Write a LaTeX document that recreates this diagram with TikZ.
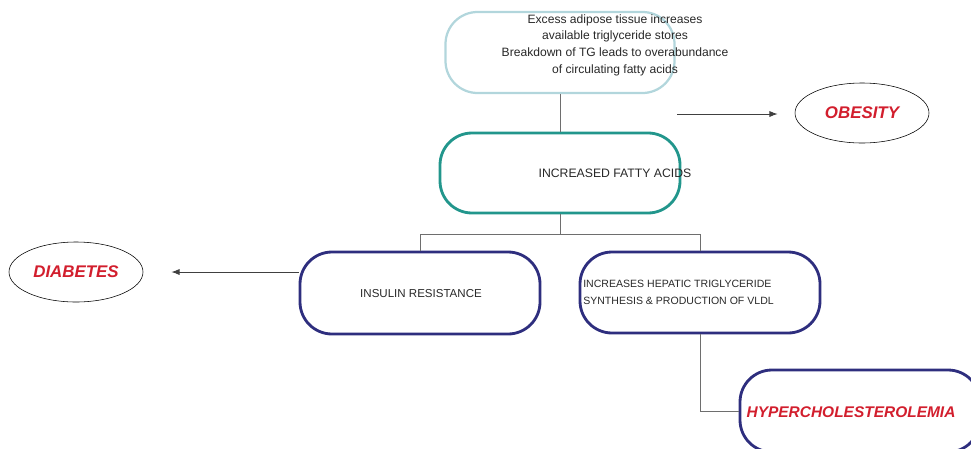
\documentclass[tikz,border=0pt]{standalone}
\usepackage{fontspec}
\setmainfont{Liberation Sans}
\usepackage{tikz}
\usetikzlibrary{shapes.geometric,arrows.meta,positioning,calc}
\definecolor{PaleTeal}{RGB}{178,214,220}
\definecolor{FatTeal}{RGB}{34,150,140}
\definecolor{DeepBlue}{RGB}{46,46,126}
\definecolor{LinkGray}{RGB}{110,110,110}
\definecolor{TextGray}{RGB}{40,40,40}
\definecolor{SickRed}{RGB}{210,30,45}

\begin{document}
\begin{tikzpicture}[x=0.025cm,y=-0.025cm,
  stage/.style={draw,rounded corners=0.8cm,minimum width=240*0.025cm,
                minimum height=81*0.025cm,inner sep=0pt},
  caps/.style={font=\fontsize{8.4}{10}\selectfont,text=TextGray,inner sep=0pt},
  disease/.style={draw=black,ellipse,inner sep=0pt,
                  minimum width=134*0.025cm,minimum height=60*0.025cm},
  sick/.style={font=\fontsize{12}{14}\selectfont\bfseries\itshape,text=SickRed,inner sep=0pt},
  link/.style={draw=LinkGray,line width=0.7pt},
  cause/.style={link,-{Latex[length=6pt,width=4.5pt]},draw=black!75},
]
\useasboundingbox (0,0) rectangle (971,448);

% boxes
\node[stage,draw=PaleTeal,line width=1.6pt,minimum width=229*0.025cm] (adipose) at (560,52.5) {};
\node[stage,draw=FatTeal,line width=2pt,minimum height=80*0.025cm] (fatty) at (560,173) {};
\node[stage,draw=DeepBlue,line width=2pt,minimum height=82*0.025cm] (insulin) at (420,293) {};
\node[stage,draw=DeepBlue,line width=2pt] (hepatic) at (700,292.5) {};
\node[stage,draw=DeepBlue,line width=2pt,minimum height=82*0.025cm] (hyper) at (860,411) {};
\node[disease] (obesity) at (862,113) {};
\node[disease] (diabetes) at (76,272) {};

% texts
\node[caps,font=\fontsize{8.6}{11.8}\selectfont,align=center] (adiposetxt) at (615,45)
  {Excess adipose tissue increases\\available triglyceride stores\\
   Breakdown of TG leads to overabundance\\of circulating fatty acids};
\node[caps,font=\fontsize{8.7}{10}\selectfont] (fattytxt) at (615,173) {INCREASED FATTY ACIDS};
\node[caps,font=\fontsize{8.2}{10}\selectfont] (insulintxt) at (421,294) {INSULIN RESISTANCE};
\node[caps,anchor=west,align=left,font=\fontsize{7.5}{11.8}\selectfont] (hepatictxt) at (583,292.5)
  {INCREASES HEPATIC TRIGLYCERIDE\\SYNTHESIS \& PRODUCTION OF VLDL};
\node[sick,font=\fontsize{11}{13}\selectfont\bfseries\itshape] (hypertxt) at (851,412) {HYPERCHOLESTEROLEMIA};
\node[sick] (obesitytxt) at (862,113) {OBESITY};
\node[sick] (diabetestxt) at (76,272) {DIABETES};

% connectors
\draw[link] (adipose.south) -- (fatty.north);
\draw[link] (fatty.south) -- ++(0,20) coordinate (fork);
\draw[link] (insulin.north) |- (fork) -| (hepatic.north);
\draw[link] (hepatic.south) |- (hyper.west);
\coordinate (obstart) at (677,114);
\coordinate (diastart) at (diabetes.east -| insulin.west);
\draw[cause,shorten >=17*0.025cm] (obstart) -- (obesity.west|-obstart);
\draw[cause,shorten >=28*0.025cm] (diastart) -- (diabetes.east);
\end{tikzpicture}
\end{document}
